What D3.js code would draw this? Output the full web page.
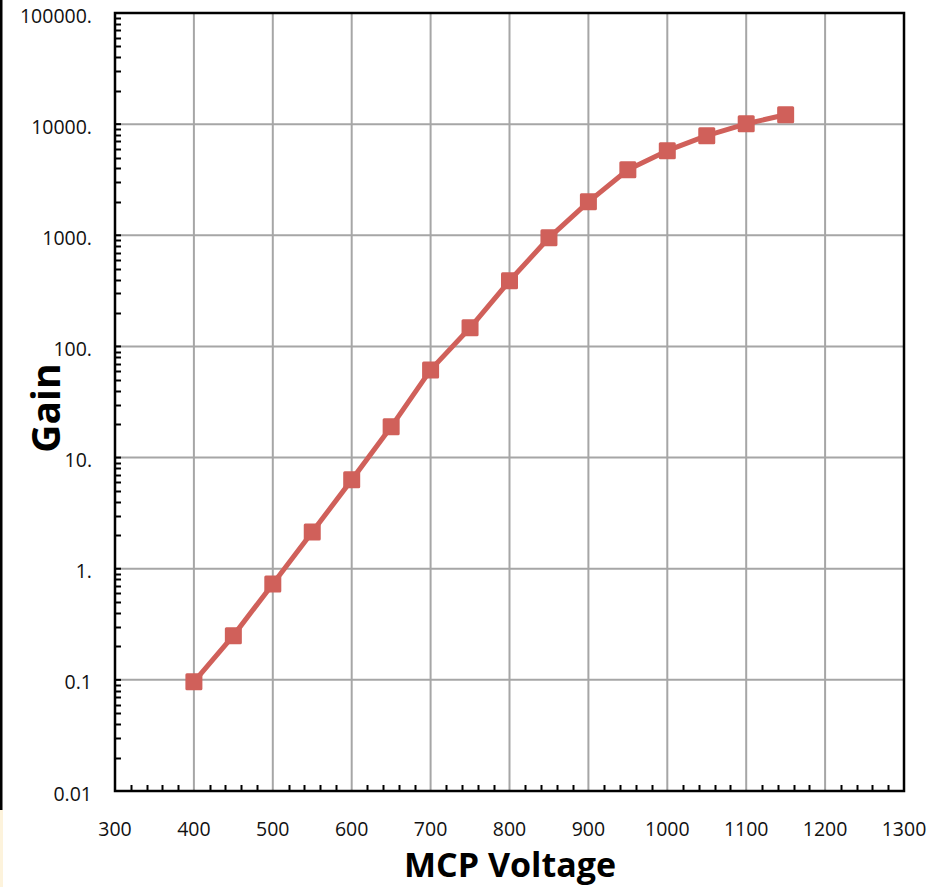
<!DOCTYPE html>
<html><head><meta charset="utf-8">
<script src="https://cdn.jsdelivr.net/npm/d3@7"></script>
<style>html,body{margin:0;padding:0;background:#fff;}svg{display:block;}</style>
</head><body>
<svg id="c" width="945" height="887"></svg>
<script>
const voltages = [400,450,500,550,600,650,700,750,800,850,900,950,1000,1050,1100,1150];
const gains = [0.096,0.25,0.73,2.14,6.3,18.9,61.5,147,389,949,2000,3890,5770,7870,10070,12160];
const xTicks = [300,400,500,600,700,800,900,1000,1100,1200,1300];
const yTicks = [0.01,0.1,1,10,100,1000,10000,100000];
const yTickLabels = ["0.01","0.1","1.","10.","100.","1000.","10000.","100000."];
const xTitle = "MCP Voltage";
const yTitle = "Gain";

const svg = d3.select("#c");
const L=115, R=904, T=13, B=791;
const x = d3.scaleLinear().domain([300,1300]).range([L,R]);
const y = d3.scaleLog().domain([0.01,100000]).range([B,T]);
const font = "'Open Sans', sans-serif";

// left edge decoration
svg.append("rect").attr("x",0).attr("y",0).attr("width",2.5).attr("height",810).attr("fill","#000");
svg.append("rect").attr("x",0).attr("y",810).attr("width",3).attr("height",77).attr("fill","#fdf3dc");

// grid
const g = svg.append("g");
g.selectAll(".gx").data(xTicks.slice(1,-1)).join("line")
  .attr("x1",d=>x(d)).attr("x2",d=>x(d)).attr("y1",T).attr("y2",B)
  .attr("stroke","#a6a6a6").attr("stroke-width",2);
g.selectAll(".gy").data(yTicks.slice(1,-1)).join("line")
  .attr("x1",L).attr("x2",R).attr("y1",d=>y(d)).attr("y2",d=>y(d))
  .attr("stroke","#a6a6a6").attr("stroke-width",2);

// minor ticks
const yMinor = [];
for (let e=-2; e<5; e++) for (let m=2; m<=9; m++) yMinor.push(m*Math.pow(10,e));
g.selectAll(".my").data(yMinor).join("line")
  .attr("x1",L).attr("x2",L+6).attr("y1",d=>Math.round(y(d))+0.5).attr("y2",d=>Math.round(y(d))+0.5)
  .attr("stroke","#000").attr("stroke-width",2);
const xMinor = d3.range(320,1300,20).filter(v=>v%100!==0);
g.selectAll(".mx").data(xMinor).join("line")
  .attr("x1",d=>Math.round(x(d))+0.5).attr("x2",d=>Math.round(x(d))+0.5).attr("y1",B).attr("y2",B-6)
  .attr("stroke","#000").attr("stroke-width",2);
// major ticks small inside
g.selectAll(".My").data(yTicks).join("line")
  .attr("x1",L).attr("x2",L+6).attr("y1",d=>y(d)).attr("y2",d=>y(d))
  .attr("stroke","#000").attr("stroke-width",2);

// frame
svg.append("rect").attr("x",L).attr("y",T).attr("width",R-L).attr("height",B-T)
  .attr("fill","none").attr("stroke","#000").attr("stroke-width",2.5);

// labels
svg.selectAll(".yl").data(yTicks).join("text")
  .attr("x",92).attr("y",d=>y(d)+2).attr("dominant-baseline","central")
  .attr("text-anchor","end").attr("font-family",font).attr("font-size",19.5).attr("fill","#111")
  .text((d,i)=>yTickLabels[i]);
svg.selectAll(".xl").data(xTicks).join("text")
  .attr("x",d=>x(d)).attr("y",836).attr("text-anchor","middle")
  .attr("font-family",font).attr("font-size",19.5).attr("fill","#111")
  .text(d=>d);

svg.append("text").attr("transform","translate(60,408) rotate(-90)")
  .attr("text-anchor","middle").attr("font-family",font).attr("font-weight","bold")
  .attr("font-size",39).attr("fill","#000").text(yTitle);
svg.append("text").attr("x",510).attr("y",877).attr("text-anchor","middle")
  .attr("font-family",font).attr("font-weight","bold").attr("font-size",34).attr("fill","#000").text(xTitle);

// series
const color = "#d0605a";
const pts = voltages.map((v,i)=>[v,gains[i]]);
svg.append("path").datum(pts)
  .attr("d",d3.line().x(d=>x(d[0])).y(d=>y(d[1])))
  .attr("fill","none").attr("stroke",color).attr("stroke-width",5).attr("stroke-linejoin","round");
const s=17;
svg.selectAll(".mk").data(pts).join("rect")
  .attr("x",d=>x(d[0])-s/2).attr("y",d=>y(d[1])-s/2).attr("width",s).attr("height",s)
  .attr("rx",1.5).attr("fill",color);
</script>
</body></html>
